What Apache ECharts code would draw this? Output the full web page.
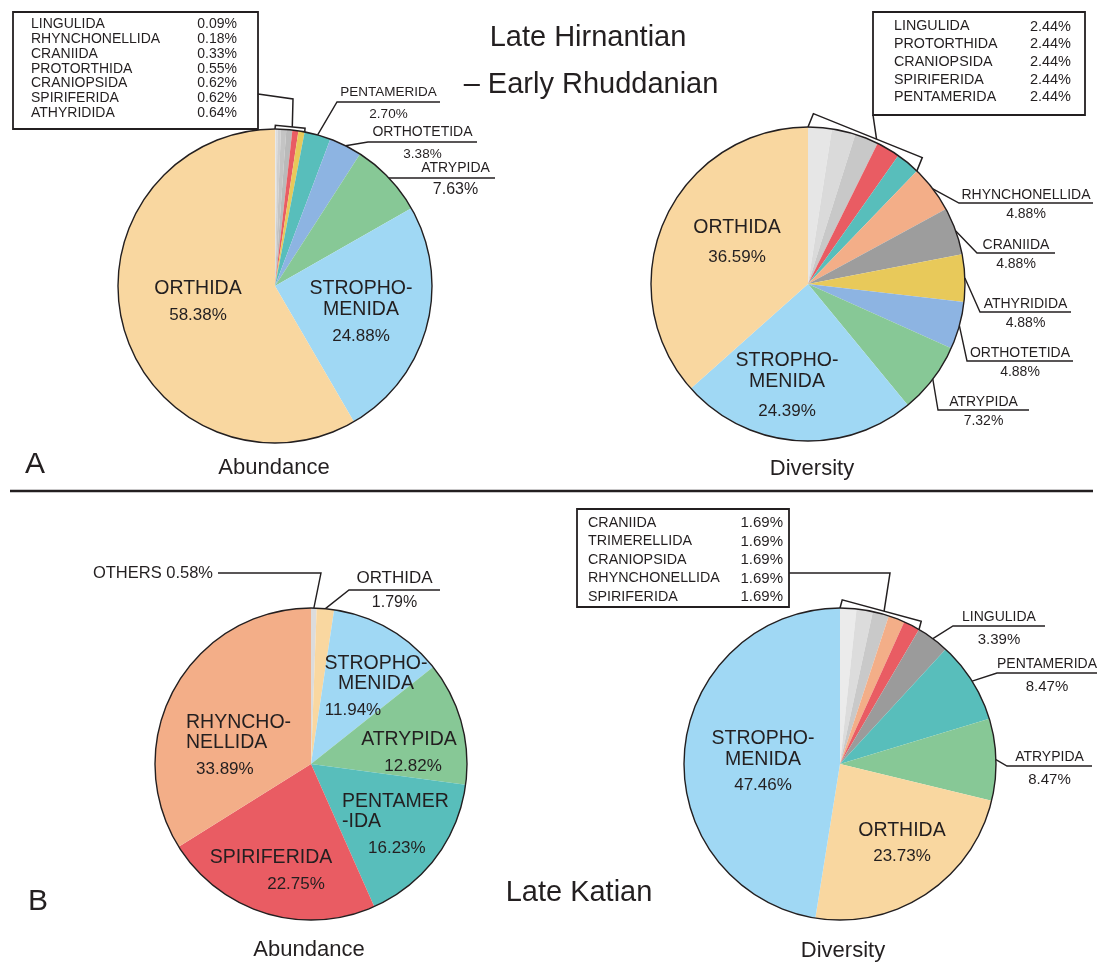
<!DOCTYPE html>
<html>
<head>
<meta charset="utf-8">
<script src="https://cdn.jsdelivr.net/npm/echarts@6/dist/echarts.min.js"></script>
<style>
html, body { margin: 0; padding: 0; background: #ffffff; }
#chart { width: 1100px; height: 963px; }
</style>
</head>
<body>
<div id="chart"></div>
<script>
// ---------------- data (percent of each order) ----------------
// A: Late Hirnantian – Early Rhuddanian
const hirAbNames = ['LINGULIDA', 'RHYNCHONELLIDA', 'CRANIIDA', 'PROTORTHIDA', 'CRANIOPSIDA', 'SPIRIFERIDA', 'ATHYRIDIDA',
                    'PENTAMERIDA', 'ORTHOTETIDA', 'ATRYPIDA', 'STROPHOMENIDA', 'ORTHIDA'];
const hirAbValues = [0.09, 0.18, 0.33, 0.55, 0.62, 0.62, 0.64, 2.70, 3.38, 7.63, 24.88, 58.38];

const hirDivNames = ['LINGULIDA', 'PROTORTHIDA', 'CRANIOPSIDA', 'SPIRIFERIDA', 'PENTAMERIDA', 'RHYNCHONELLIDA',
                     'CRANIIDA', 'ATHYRIDIDA', 'ORTHOTETIDA', 'ATRYPIDA', 'STROPHOMENIDA', 'ORTHIDA'];
const hirDivValues = [2.44, 2.44, 2.44, 2.44, 2.44, 4.88, 4.88, 4.88, 4.88, 7.32, 24.39, 36.59];

// B: Late Katian
const katAbNames = ['OTHERS', 'ORTHIDA', 'STROPHOMENIDA', 'ATRYPIDA', 'PENTAMERIDA', 'SPIRIFERIDA', 'RHYNCHONELLIDA'];
const katAbValues = [0.58, 1.79, 11.94, 12.82, 16.23, 22.75, 33.89];

const katDivNames = ['CRANIIDA', 'TRIMERELLIDA', 'CRANIOPSIDA', 'RHYNCHONELLIDA', 'SPIRIFERIDA', 'LINGULIDA',
                     'PENTAMERIDA', 'ATRYPIDA', 'ORTHIDA', 'STROPHOMENIDA'];
const katDivValues = [1.69, 1.69, 1.69, 1.69, 1.69, 3.39, 8.47, 8.47, 23.73, 47.46];

// ---------------- colours ----------------
const hirAbColors  = ['#E8E8E8', '#DCDCDC', '#CFCFCF', '#C4C4C4', '#BABABA', '#E95C63', '#E8C95A',
                      '#58BEBB', '#8DB4E2', '#87C896', '#A0D8F4', '#F9D7A0'];
const hirDivColors = ['#E6E6E6', '#DADADA', '#C8C8C8', '#E95C63', '#58BEBB', '#F3AE88',
                      '#9D9D9D', '#E8C95A', '#8DB4E2', '#87C896', '#A0D8F4', '#F9D7A0'];
const katAbColors  = ['#DCDCDC', '#F9D7A0', '#A0D8F4', '#87C896', '#58BEBB', '#E95C63', '#F3AE88'];
const katDivColors = ['#EBEBEB', '#DCDCDC', '#C9C9C9', '#F3AE88', '#E95C63', '#9B9B9B',
                      '#58BEBB', '#87C896', '#F9D7A0', '#A0D8F4'];

const FONT = '"Liberation Sans", Arial, Helvetica, sans-serif';
const INK = '#231f20';

// ---------------- panel layout ----------------
// labels: 'in' = written inside the slice, 'out' = name over a leader line with the value below,
// 'tag' = single line to the left of a leader; orders not listed go into the boxed list.
const panels = [
  {
    names: hirAbNames, values: hirAbValues, colors: hirAbColors,
    center: [275, 286], r: 157, boxed: 7,
    inner: { nameSize: 19.5, nameLH: 21, pctSize: 17, pctLH: 31 },
    outer: { nameSize: 13.5, nameLH: 24, pctSize: 13.5, pctLH: 20 },
    labels: {
      ORTHIDA:       { type: 'in', lines: ['ORTHIDA'], x: 198, y1: 289 },
      STROPHOMENIDA: { type: 'in', lines: ['STROPHO-', 'MENIDA'], x: 361, y1: 289 },
      PENTAMERIDA:   { type: 'out', elbow: [337, 102], end: 440 },
      ORTHOTETIDA:   { type: 'out', elbow: [368, 142], end: 477, nameSize: 14 },
      ATRYPIDA:      { type: 'out', elbow: [416, 178], end: 495, nameSize: 14, pctSize: 16 }
    },
    box: { x: 13, y: 12, w: 245, h: 117, nameX: 31, valueX: 237, rowY: 24, rowStep: 14.9,
           nameSize: 14, valueSize: 14 },
    bracket: { gap: 3, link: [[258, 94], [293, 99]], t: 0.57 }
  },
  {
    names: hirDivNames, values: hirDivValues, colors: hirDivColors,
    center: [808, 284], r: 157, boxed: 5,
    inner: { nameSize: 19.5, nameLH: 21, pctSize: 17, pctLH: 37 },
    outer: { nameSize: 14, nameLH: 23, pctSize: 14, pctLH: 16 },
    labels: {
      ORTHIDA:        { type: 'in', lines: ['ORTHIDA'], x: 737, y1: 228 },
      STROPHOMENIDA:  { type: 'in', lines: ['STROPHO-', 'MENIDA'], x: 787, y1: 361 },
      RHYNCHONELLIDA: { type: 'out', elbow: [959, 203], end: 1093 },
      CRANIIDA:       { type: 'out', elbow: [977, 253], end: 1055 },
      ATHYRIDIDA:     { type: 'out', elbow: [980, 312], end: 1071 },
      ORTHOTETIDA:    { type: 'out', elbow: [967, 361], end: 1073 },
      ATRYPIDA:       { type: 'out', elbow: [938, 410], end: 1029 }
    },
    box: { x: 873, y: 12, w: 212, h: 103, nameX: 894, valueX: 1071, rowY: 26.5, rowStep: 17.7,
           nameSize: 14.3, valueSize: 14.5 },
    bracket: { gap: 3, link: [[873, 115]], t: 0.58 }
  },
  {
    names: katAbNames, values: katAbValues, colors: katAbColors,
    center: [311, 764], r: 156, boxed: 0,
    inner: { nameSize: 19.5, nameLH: 20, pctSize: 17, pctLH: 32 },
    outer: { nameSize: 17, nameLH: 26, pctSize: 16, pctLH: 24, tagSize: 16.5 },
    labels: {
      OTHERS:         { type: 'tag', elbow: [321, 573], end: 218, textX: 213 },
      ORTHIDA:        { type: 'out', elbow: [349, 590], end: 440 },
      STROPHOMENIDA:  { type: 'in', lines: ['STROPHO-', 'MENIDA'], x: 376, y1: 664, shift: -23 },
      ATRYPIDA:       { type: 'in', lines: ['ATRYPIDA'], x: 409, y1: 740, shift: 4 },
      PENTAMERIDA:    { type: 'in', lines: ['PENTAMER', '-IDA'], x: 342, y1: 802, align: 'left', shift: 26 },
      SPIRIFERIDA:    { type: 'in', lines: ['SPIRIFERIDA'], x: 271, y1: 858, shift: 25 },
      RHYNCHONELLIDA: { type: 'in', lines: ['RHYNCHO-', 'NELLIDA'], x: 186, y1: 723, align: 'left', shift: 10 }
    }
  },
  {
    names: katDivNames, values: katDivValues, colors: katDivColors,
    center: [840, 764], r: 156, boxed: 5,
    inner: { nameSize: 19.5, nameLH: 21, pctSize: 17, pctLH: 29 },
    outer: { nameSize: 14, nameLH: 27, pctSize: 15, pctLH: 18 },
    labels: {
      STROPHOMENIDA: { type: 'in', lines: ['STROPHO-', 'MENIDA'], x: 763, y1: 739 },
      ORTHIDA:       { type: 'in', lines: ['ORTHIDA'], x: 902, y1: 831 },
      LINGULIDA:     { type: 'out', elbow: [953, 626], end: 1045 },
      PENTAMERIDA:   { type: 'out', elbow: [997, 673], end: 1097 },
      ATRYPIDA:      { type: 'out', elbow: [1007, 766], end: 1092 }
    },
    box: { x: 577, y: 509, w: 212, h: 98, nameX: 588, valueX: 783, rowY: 523, rowStep: 18.5,
           nameSize: 14.3, valueSize: 15 },
    bracket: { gap: 3, link: [[789, 573], [890, 573]], t: 0.53 }
  }
];

const pct = v => v.toFixed(2) + '%';

function tok(size, lh, extra) {
  return Object.assign({ fontSize: size, lineHeight: lh, fontFamily: FONT, color: INK }, extra || {});
}

function buildSeries(panel) {
  const rich = {
    n:  tok(panel.inner.nameSize, panel.inner.nameLH),
    p:  tok(panel.inner.pctSize, panel.inner.pctLH),
    on: tok(panel.outer.nameSize, panel.outer.nameLH),
    op: tok(panel.outer.pctSize, panel.outer.pctLH),
    t:  tok(panel.outer.tagSize || 16, 20)
  };
  const data = panel.names.map((name, i) => {
    const spec = panel.labels[name];
    const item = { name: name, value: panel.values[i], itemStyle: { color: panel.colors[i] } };
    if (!spec) {
      item.label = { show: false };
      item.labelLine = { show: false };
    } else if (spec.type === 'in') {
      const align = spec.align || 'center';
      const s = spec.shift || 0;
      let padding = [0, 0, 0, 0];
      if (align === 'left') padding = [0, 0, 0, Math.max(s, 0)];
      else if (s > 0) padding = [0, 0, 0, 2 * s];
      else if (s < 0) padding = [0, -2 * s, 0, 0];
      item.label = { show: true, position: 'inside', align: align,
                     rich: { n: rich.n, p: Object.assign({}, rich.p, { padding: padding }) } };
      item.labelLine = { show: false };
    } else {
      item.label = { show: true, position: 'outside' };
      if (spec.nameSize || spec.pctSize) {
        item.label.rich = {
          on: Object.assign({}, rich.on, spec.nameSize ? { fontSize: spec.nameSize } : {}),
          op: Object.assign({}, rich.op, spec.pctSize ? { fontSize: spec.pctSize } : {})
        };
      }
      item.labelLine = { show: true };
    }
    return item;
  });

  return {
    type: 'pie',
    center: panel.center,
    radius: panel.r,
    startAngle: 90,
    clockwise: true,
    avoidLabelOverlap: false,
    silent: true,
    animation: false,
    itemStyle: { borderWidth: 0 },
    label: {
      show: true,
      width: 260,
      overflow: 'none',
      fontFamily: FONT,
      color: INK,
      rich: rich,
      formatter: function (p) {
        const spec = panel.labels[p.name];
        if (!spec) return '';
        if (spec.type === 'in') {
          return spec.lines.map(l => '{n|' + l + '}').join('\n') + '\n{p|' + pct(p.value) + '}';
        }
        if (spec.type === 'tag') return '{t|' + p.name + ' ' + pct(p.value) + '}';
        return '{on|' + p.name + '}\n{op|' + pct(p.value) + '}';
      }
    },
    labelLine: { show: true, length: 10, length2: 10, smooth: false,
                 lineStyle: { color: INK, width: 1.4 } },
    labelLayout: function (params) {
      const spec = panel.labels[panel.names[params.dataIndex]];
      if (!spec) return {};
      if (spec.type === 'in') {
        const a = panel.inner.nameLH, b = panel.inner.pctLH;
        const h = spec.lines.length * a + b;
        const top = spec.y1 - a / 2;
        return { x: spec.x, y: top + h / 2, align: spec.align || 'center', verticalAlign: 'middle' };
      }
      const pts = params.labelLinePoints;
      const p0 = pts ? pts[0] : spec.elbow;
      const line = [p0, spec.elbow, [spec.end, spec.elbow[1]]];
      if (spec.type === 'tag') {
        return { x: spec.textX, y: spec.elbow[1], align: 'right', verticalAlign: 'middle', labelLinePoints: line };
      }
      return { x: (spec.elbow[0] + spec.end) / 2, y: spec.elbow[1], align: 'center',
               verticalAlign: 'middle', labelLinePoints: line };
    },
    data: data
  };
}

// ---------------- annotation graphics ----------------
const graphics = [];

function addText(x, y, str, size, align) {
  align = align || 'center';
  graphics.push({
    type: 'text', x: x, y: y, z: 100, silent: true,
    style: { text: str, fill: INK, fontSize: size, fontFamily: FONT,
             align: align, textAlign: align, verticalAlign: 'middle', textVerticalAlign: 'middle' }
  });
}

function addLine(points, width) {
  graphics.push({ type: 'polyline', z: 100, silent: true, shape: { points: points },
                  style: { stroke: INK, lineWidth: width || 1.5, fill: 'none' } });
}

panels.forEach(panel => {
  const [cx, cy] = panel.center;
  const r = panel.r;
  // outer rim of the pie
  graphics.push({ type: 'circle', z: 100, silent: true, shape: { cx: cx, cy: cy, r: r },
                  style: { fill: 'none', stroke: INK, lineWidth: 1.4 } });

  if (!panel.boxed) return;
  // bracket around the arc of the small orders
  const total = panel.values.reduce((s, v) => s + v, 0);
  let part = 0;
  for (let i = 0; i < panel.boxed; i++) part += panel.values[i];
  const span = part / total * 2 * Math.PI;
  const at = a => [cx + r * Math.sin(a), cy - r * Math.cos(a)];
  const p0 = at(0), p1 = at(span);
  const dx = p1[0] - p0[0], dy = p1[1] - p0[1];
  const len = Math.hypot(dx, dy);
  const nx = dy / len, ny = -dx / len;
  const h = r * (1 - Math.cos(span / 2)) + panel.bracket.gap;
  const q0 = [p0[0] + nx * h, p0[1] + ny * h];
  const q1 = [p1[0] + nx * h, p1[1] + ny * h];
  addLine([p0, q0, q1, p1], 1.5);
  const t = panel.bracket.t;
  addLine(panel.bracket.link.concat([[q0[0] + dx * t, q0[1] + dy * t]]), 1.5);

  // boxed list of the small orders
  const b = panel.box;
  graphics.push({ type: 'rect', z: 99, silent: true, shape: { x: b.x, y: b.y, width: b.w, height: b.h },
                  style: { fill: '#ffffff', stroke: INK, lineWidth: 1.8 } });
  for (let i = 0; i < panel.boxed; i++) {
    const y = b.rowY + i * b.rowStep;
    addText(b.nameX, y, panel.names[i], b.nameSize, 'left');
    addText(b.valueX, y, pct(panel.values[i]), b.valueSize, 'right');
  }
});

// titles, panel letters and captions
addText(588, 38, 'Late Hirnantian', 29);
addText(591, 85, '– Early Rhuddanian', 29);
addText(579, 893, 'Late Katian', 29);
addText(35, 465, 'A', 30);
addText(38, 902, 'B', 30);
addText(274, 468, 'Abundance', 22);
addText(812, 469, 'Diversity', 22);
addText(309, 950, 'Abundance', 22);
addText(843, 951, 'Diversity', 22);
graphics.push({ type: 'line', z: 100, silent: true, shape: { x1: 10, y1: 491, x2: 1093, y2: 491 },
                style: { stroke: INK, lineWidth: 2.6 } });

const chart = echarts.init(document.getElementById('chart'), null, { renderer: 'canvas' });
chart.setOption({
  backgroundColor: '#ffffff',
  animation: false,
  series: panels.map(buildSeries),
  graphic: { elements: graphics }
});
</script>
</body>
</html>
